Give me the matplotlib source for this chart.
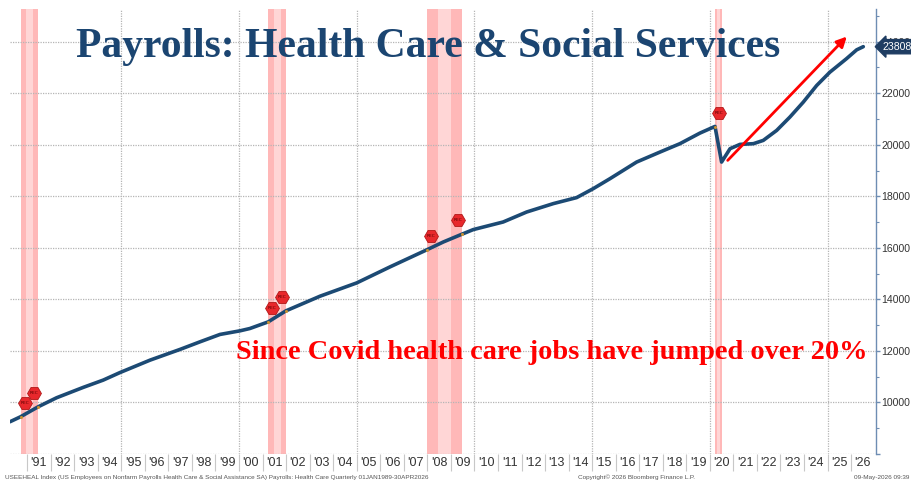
import numpy as np
import matplotlib
matplotlib.use("Agg")
import matplotlib.pyplot as plt
import matplotlib.transforms as mtransforms
from matplotlib.ticker import FixedLocator, NullFormatter, FixedFormatter

# ---------------- data ----------------
years = [1990.27, 1990.72, 1991.47, 1992.25, 1993.38, 1994.23, 1994.94, 1996.22,
         1997.49, 1998.34, 1999.19, 2000.04, 2000.46, 2001.24, 2001.99, 2003.44,
         2005.00, 2006.41, 2008.00, 2008.68, 2009.46, 2009.95, 2011.22, 2012.22,
         2013.35, 2014.34, 2015.05, 2015.76, 2016.89, 2017.88, 2018.73, 2019.58,
         2020.22, 2020.50, 2020.86, 2021.28, 2021.85, 2022.27, 2022.84, 2023.40,
         2023.97, 2024.54, 2025.10, 2025.80, 2026.24, 2026.52]
payrolls = [9252, 9446, 9834, 10183, 10585, 10868, 11160, 11643,
            12058, 12353, 12640, 12780, 12870, 13128, 13555, 14124,
            14640, 15260, 15934, 16229, 16527, 16709, 17004, 17392,
            17717, 17950, 18299, 18686, 19330, 19717, 20043, 20454,
            20713, 19330, 19849, 20016, 20043, 20170, 20558, 21074,
            21655, 22302, 22818, 23337, 23686, 23808]

rec_start = [1990.72, 2001.24, 2007.99, 2020.21]
rec_end = [1991.45, 2002.00, 2009.47, 2020.50]
rec_marker_years = [1990.72, 1991.45, 2001.24, 2002.00, 2007.99, 2009.47, 2020.21]
rec_marker_side = [1, -1, 1, -1, 1, -1, 1]

arrow_start = (2020.76, 19395)
arrow_end = (2025.82, 24200)

year_labels = ["'%02d" % (y % 100) for y in range(1991, 2027)]
label_years = list(range(1991, 2027))
grid_years = [1995, 2000, 2005, 2010, 2015, 2020, 2025]
ytick_vals = [8000, 10000, 12000, 14000, 16000, 18000, 20000, 22000, 24000]
ytick_labels = ["", "10000", "12000", "14000", "16000", "18000", "20000", "22000", "24000"]
last_value = "23808"

title = "Payrolls: Health Care & Social Services"
note = "Since Covid health care jobs have jumped over 20%"
footer_left = ("USEEHEAL Index (US Employees on Nonfarm Payrolls Health Care & Social Assistance SA) "
               "Payrolls: Health Care Quarterly 01JAN1989-30APR2026")
footer_mid = "Copyright\u00a9 2026 Bloomberg Finance L.P."
footer_right = "09-May-2026 09:39"

# ---------------- figure ----------------
W, H = 911, 483
fig = plt.figure(figsize=(W / 100, H / 100), dpi=100)
ax = fig.add_axes([10 / W, 1 - 454 / H, (876 - 10) / W, (454 - 9) / H])

navy = "#1c4a74"
spine_col = "#6e8db3"
sans = ["Liberation Sans", "DejaVu Sans"]
serif = ["Liberation Serif", "DejaVu Serif"]

ax.set_xlim(1990.27, 2027.06)
ax.set_ylim(8000, 25270)

# recession bands
for s, e in zip(rec_start, rec_end):
    ax.axvspan(s, e, color="#ffb8b8", lw=0, zorder=0)
    w = e - s
    ax.axvspan(s + w * 0.3, e - w * 0.3, color="#ffd6d6", lw=0, zorder=0)

# grids
for gy in ytick_vals:
    ax.axhline(gy, color="#b5b5b5", lw=0.9, ls=(0, (1, 1)), zorder=1)
for gx in grid_years:
    ax.axvline(gx, color="#b5b5b5", lw=0.9, ls=(0, (1, 1)), zorder=1)

# main line
ax.plot(years, payrolls, color=navy, lw=2.6, solid_capstyle="round",
        solid_joinstyle="round", zorder=3)

# recession start/end dots and REC markers
for yr, side in zip(rec_marker_years, rec_marker_side):
    v = np.interp(yr, years, payrolls)
    ax.plot([yr], [v], marker="o", ms=2.2, color="#c89030", mew=0, zorder=4)
    tr = mtransforms.offset_copy(ax.transData, fig=fig, x=4 * side, y=14, units="dots")
    ax.plot([yr], [v], marker="H", ms=10, color="#e8282c", mec="#b01818", mew=0.6,
            transform=tr, zorder=5)
    ax.text(yr, v, "REC", transform=tr, fontsize=3.2, color="#5a0000",
            ha="center", va="center", zorder=6)

# red arrow
ax.annotate("", xy=arrow_end, xytext=arrow_start,
            arrowprops=dict(arrowstyle="-|>,head_length=0.6,head_width=0.3",
                            color="#ff0000", lw=2.0, shrinkA=0, shrinkB=0), zorder=6)

# spines
for sp in ["left", "top", "bottom"]:
    ax.spines[sp].set_visible(False)
ax.spines["right"].set_color(spine_col)
ax.spines["right"].set_linewidth(1.0)

# y axis on right
ax.yaxis.tick_right()
ax.yaxis.set_major_locator(FixedLocator(ytick_vals))
ax.yaxis.set_major_formatter(FixedFormatter(ytick_labels))
ax.yaxis.set_minor_locator(FixedLocator(np.arange(9000, 25001, 2000)))
ax.tick_params(axis="y", which="major", direction="out", length=3, width=1,
               color=spine_col, labelsize=7.6, labelcolor="#333333", pad=1)
ax.tick_params(axis="y", which="minor", direction="out", length=2.5, width=0.8,
               color=spine_col)
for lab in ax.get_yticklabels():
    lab.set_family(sans)

# x axis: separators at year boundaries, labels at mid-year
ax.xaxis.set_major_locator(FixedLocator(label_years))
ax.xaxis.set_major_formatter(NullFormatter())
ax.xaxis.set_minor_locator(FixedLocator([y + 0.5 for y in label_years]))
ax.xaxis.set_minor_formatter(FixedFormatter(year_labels))
ax.tick_params(axis="x", which="major", direction="out", length=12, width=0.8,
               color="#c8c8c8")
ax.tick_params(axis="x", which="minor", length=0, labelsize=9,
               labelcolor="#333333", pad=2.5)
for lab in ax.get_xticklabels(minor=True):
    lab.set_family(sans)

# title and annotation
ax.text(0.483, 0.915, title, transform=ax.transAxes, ha="center", va="center",
        fontsize=30, fontweight="bold", family=serif, color="#1b4571", zorder=7)
ax.text(0.625, 0.229, note, transform=ax.transAxes, ha="center", va="center",
        fontsize=20.4, fontweight="bold", family=serif, color="#ff0000", zorder=7)

# last value tag
ax.annotate(last_value, xy=(1.0, payrolls[-1]), xycoords=("axes fraction", "data"),
            xytext=(5, 0), textcoords="offset points", ha="left", va="center",
            fontsize=7.6, color="white", family=sans, annotation_clip=False,
            bbox=dict(boxstyle="larrow,pad=0.2", fc="#1f3d62", ec="#1f3d62"),
            zorder=8)

# footer
fig.text(5 / W, 1 - 477 / H, footer_left, fontsize=4.6, color="#555555",
         family=sans, ha="left", va="center")
fig.text(637 / W, 1 - 477 / H, footer_mid, fontsize=4.6, color="#555555",
         family=sans, ha="center", va="center")
fig.text(854 / W, 1 - 477 / H, footer_right, fontsize=4.6, color="#555555",
         family=sans, ha="left", va="center")

fig.savefig("out.png", dpi=100)
